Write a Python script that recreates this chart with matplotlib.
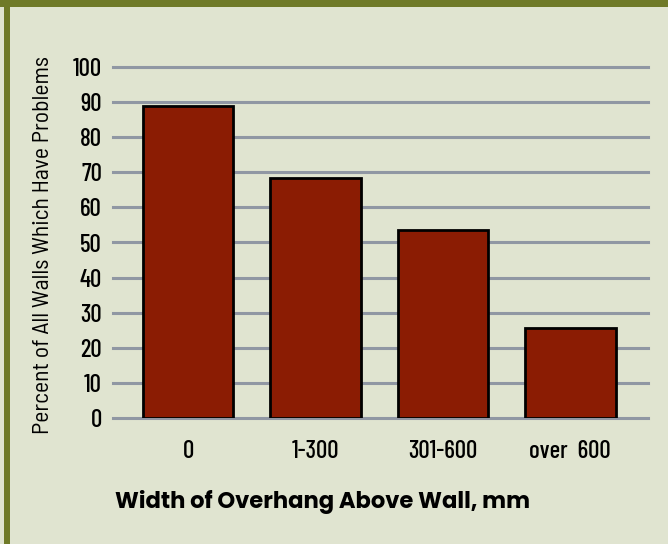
import matplotlib

matplotlib.use("Agg")

import matplotlib.pyplot as plt
from matplotlib.patches import Rectangle

categories = ["0", "1-300", "301-600", "over  600"]
percent_values = [89, 68.5, 53.5, 25.5]
y_ticks = [0, 10, 20, 30, 40, 50, 60, 70, 80, 90, 100]

BG = "#e0e4d0"
GREEN = "#6f7a28"
BAR = "#8b1c03"
GRID = "#9097a3"

narrow = ["Barlow Condensed", "Roboto Condensed", "DejaVu Sans"]
semi = ["Barlow Semi Condensed", "Roboto Condensed", "DejaVu Sans"]
heavy = ["Poppins", "Montserrat", "DejaVu Sans"]

W, H = 668, 544
fig = plt.figure(figsize=(W / 100, H / 100), dpi=100, facecolor=BG)

# green frame at top and left
fig.patches.append(Rectangle((0, 1 - 7 / H), 1, 7 / H, transform=fig.transFigure,
                             facecolor=GREEN, edgecolor="none", zorder=0))
fig.patches.append(Rectangle((4 / W, 0), 6 / W, 1, transform=fig.transFigure,
                             facecolor=GREEN, edgecolor="none", zorder=0))

ax = fig.add_axes([113 / W, (H - 418) / H, (648 - 113) / W, (418 - 67) / H])
ax.set_facecolor("none")

x = list(range(len(categories)))
ax.bar(x, percent_values, width=0.71, color=BAR, edgecolor="black", linewidth=2, zorder=3)

ax.set_xlim(-0.59, 3.61)
ax.set_ylim(0, 100)
ax.set_yticks(y_ticks)
ax.set_yticklabels([str(v) for v in y_ticks], family=narrow, fontsize=18, fontweight="medium")
ax.set_xticks(x)
ax.set_xticklabels(categories, family=narrow, fontsize=18, fontweight="medium")
ax.tick_params(length=0, pad=8)
ax.tick_params(axis="x", pad=16)

for v in y_ticks:
    ax.axhline(v, color=GRID, linewidth=2.2, zorder=1, clip_on=False)

for s in ax.spines.values():
    s.set_visible(False)

fig.text(44 / W, 1 - 245 / H, "Percent of All Walls Which Have Problems", rotation=90,
         ha="center", va="center", fontsize=17, family=semi)
fig.text(115 / W, 1 - 502 / H, "Width of Overhang Above Wall, mm", ha="left", va="center",
         fontsize=16.3, fontweight="bold", family=heavy)

fig.savefig("out.png", dpi=100, facecolor=BG)
